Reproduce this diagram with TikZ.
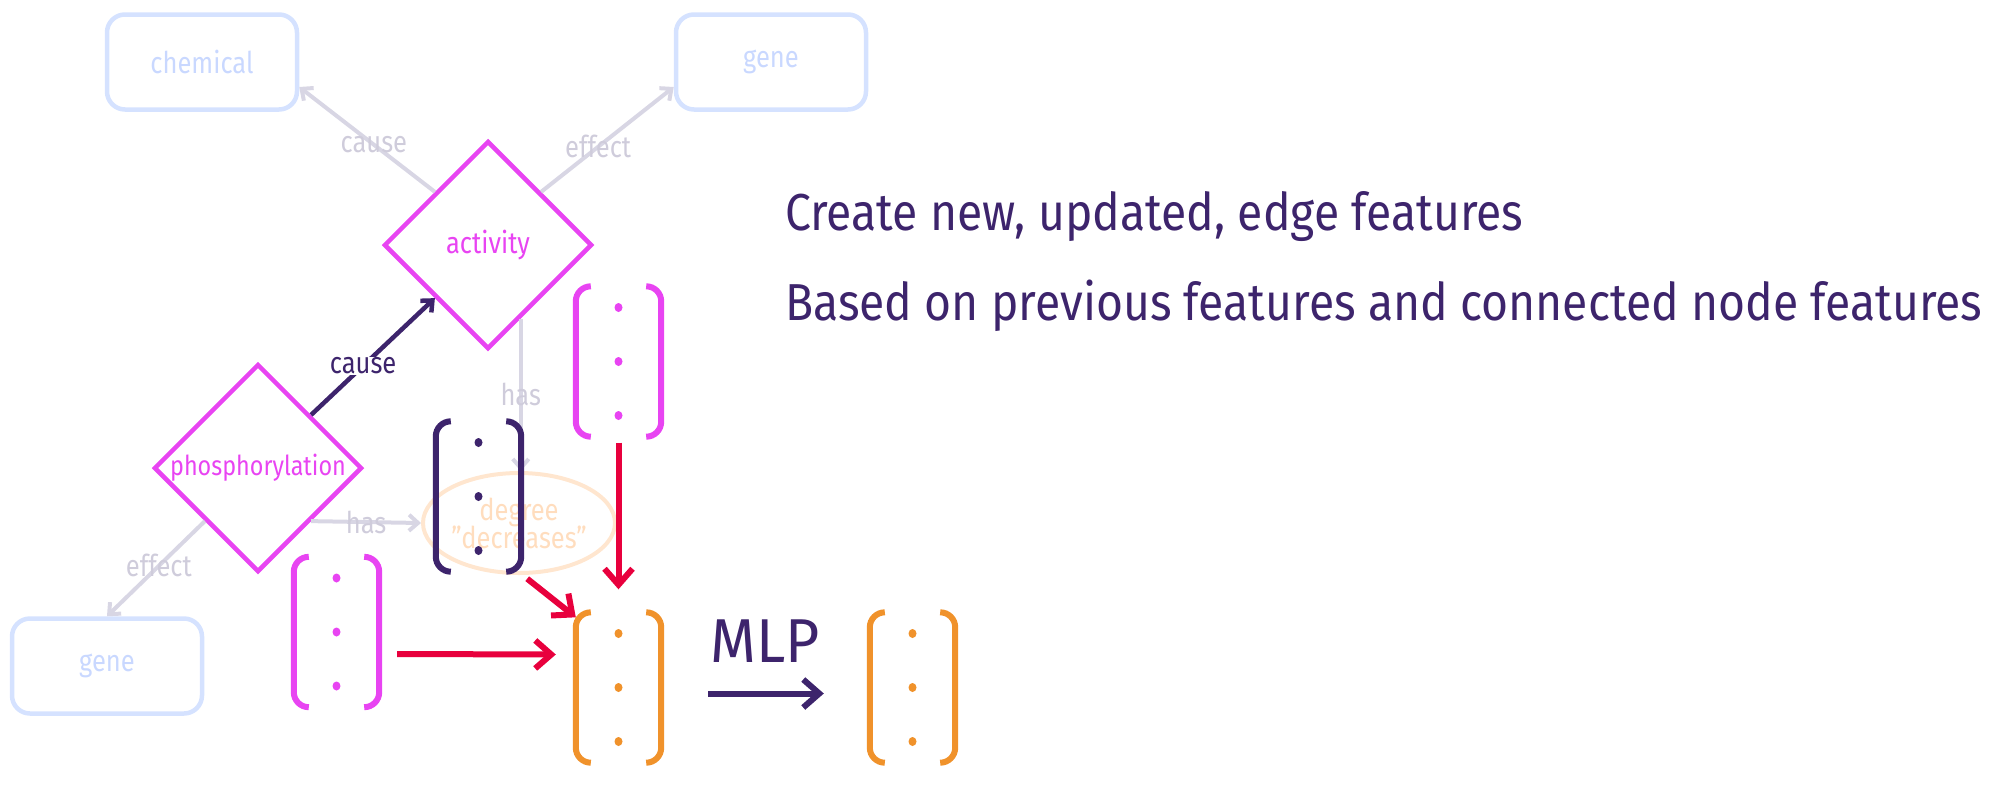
\documentclass[tikz,border=0pt]{standalone}
\usepackage{fontspec}
\setmainfont[FakeStretch=0.85]{Fira Sans}
\newfontfamily\bigfont[FakeStretch=0.89]{Fira Sans}
\newfontfamily\mlpfont[FakeStretch=0.95]{Fira Sans}
\usetikzlibrary{shapes.geometric,arrows.meta,calc}
\definecolor{mag}{HTML}{E844F2}
\definecolor{dpur}{HTML}{3D246C}
\definecolor{redc}{HTML}{E8003D}
\definecolor{oran}{HTML}{F0922B}
\definecolor{lblue}{HTML}{D5E2FF}
\definecolor{lbluet}{HTML}{C9D8FF}
\definecolor{gedge}{HTML}{D8D6E4}
\definecolor{gtext}{HTML}{CFCCDB}
\definecolor{lor}{HTML}{FFE6CF}
\definecolor{lort}{HTML}{FFDDBE}
\newcommand{\vbr}[2]{%
  \draw[#2,line width=6pt,rounded corners=15pt] ([xshift=15pt]#1.north west) -- (#1.north west) -- (#1.south west) -- ([xshift=15pt]#1.south west);
  \draw[#2,line width=6pt,rounded corners=15pt] ([xshift=-15pt]#1.north east) -- (#1.north east) -- (#1.south east) -- ([xshift=-15pt]#1.south east);
  \fill[#2] (#1.center) ellipse (4pt and 4.5pt);
  \fill[#2] ([yshift=54pt]#1.center) ellipse (4pt and 4.5pt);
  \fill[#2] ([yshift=-54pt]#1.center) ellipse (4pt and 4.5pt);}
\begin{document}
\begin{tikzpicture}[x=1pt,y=-1pt,
  small/.style={font=\fontsize{30}{32}\selectfont},
  ebox/.style={draw=lblue,line width=4.5pt,rounded corners=18pt,minimum width=190pt,minimum height=95pt,text=lbluet,small},
  rel/.style={diamond,aspect=1,inner sep=0pt,draw=mag,line width=4.5pt},
  reltext/.style={text=mag,small},
  vec/.style={minimum width=85pt,minimum height=150pt,inner sep=0pt},
  gedgest/.style={draw=gedge,line width=4pt,-{Straight Barb[length=9pt,width=16pt]}},
  glabel/.style={text=gtext,small},
  redarr/.style={draw=redc,line width=6pt,-{Straight Barb[length=16pt,width=28pt]}},
  mainarr/.style={draw=dpur,line width=6pt,-{Straight Barb[length=16pt,width=28pt]}},
  bigtext/.style={text=dpur,font=\bigfont\fontsize{52}{56}\selectfont,anchor=base west,inner sep=0pt}]
\useasboundingbox (0,0) rectangle (2000,793);
% entity boxes
\node[ebox] (chem) at (202,62) {chemical};
\node[ebox] (gene1) at (771,62) {gene};
\node[ebox] (gene2) at (107,666) {gene};
% relation diamonds
\node[rel,minimum width=208pt,minimum height=208pt] (act) at (488,245) {};
\node[reltext] (actt) at (act) {activity};
\node[rel,minimum width=208pt,minimum height=208pt] (phos) at (258,468) {};
\node[reltext,font=\fontsize{27.5}{30}\selectfont] (phost) at (phos) {phosphorylation};
% attribute ellipse
\node[ellipse,draw=lor,line width=4pt,minimum width=192pt,minimum height=100pt,text=lort,small,align=center,inner sep=0pt] (ell) at (519,523) {degree\\[-4pt]"decreases"};
% gray edges
\draw[gedgest] (act.north west) -- node[glabel,pos=0.45] {cause} ([yshift=-25pt]chem.east);
\draw[gedgest] (act.north east) -- node[glabel,pos=0.43] {effect} ([yshift=-25pt]gene1.west);
\draw[gedgest] (act.-66) -- node[glabel,pos=0.5] {has} (act.-66 |- ell.north);
\draw[gedgest] (phos.south east) -- node[glabel,pos=0.5] {has} (ell.west);
\draw[gedgest] (phos.south west) -- node[glabel,pos=0.47] {effect} (gene2.north);
% dark cause
\draw[draw=dpur,line width=4.5pt,-{Straight Barb[length=9pt,width=16pt]}] (phos.north east) -- node[pos=0.42,fill=white,inner sep=1pt,text=dpur,small] {cause} (act.south west);
% vectors
\node[vec] (vt) at (618.5,361.5) {};
\node[vec] (vp) at (478.5,496.5) {};
\node[vec] (vl) at (336.5,632) {};
\node[vec] (vo) at (618.5,687.5) {};
\node[vec] (vr) at (912.5,687.5) {};
\vbr{vt}{mag}
\vbr{vp}{dpur}
\vbr{vl}{mag}
\vbr{vo}{oran}
\vbr{vr}{oran}
% red arrows
\draw[redarr] ([xshift=18pt,yshift=-22pt]vl.east) -- ([xshift=-20pt,yshift=33pt]vo.west);
\draw[redarr] ([yshift=-6pt]vt.south) -- ([yshift=23pt]vo.north);
\draw[redarr] ([xshift=6pt,yshift=-7pt]vp.south east) -- ([yshift=-5pt]vo.north west);
% MLP
\node[text=dpur,font=\mlpfont\fontsize{62}{64}\selectfont,anchor=base,inner sep=0pt] (mlp) at (765,662) {MLP};
\draw[mainarr] ([xshift=47pt,yshift=-6pt]vo.east) -- ([xshift=-46pt,yshift=-6pt]vr.west);
% texts
\node[bigtext] (t1) at (785,230) {Create new, updated, edge features};
\node[bigtext] (t2) at (785,320) {Based on previous features and connected node features};
\end{tikzpicture}
\end{document}
